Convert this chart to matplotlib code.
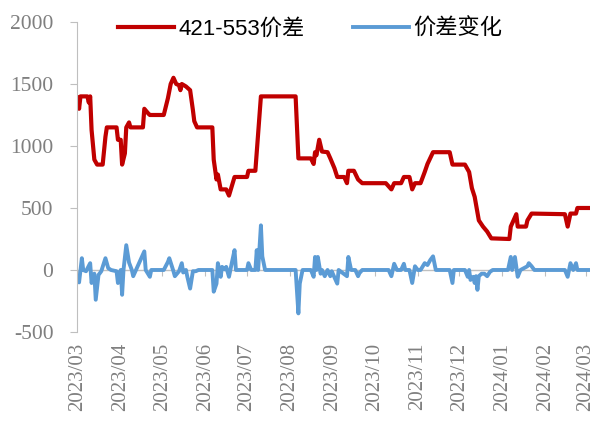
import matplotlib
matplotlib.use("Agg")
import matplotlib.pyplot as plt
import matplotlib.dates as mdates
import pandas as pd

plt.rcParams["axes.unicode_minus"] = False

# 421-553 spread (at its turning points)
spread_dates = [
    "2023-03-01", "2023-03-02", "2023-03-03", "2023-03-08", "2023-03-09", "2023-03-10",
    "2023-03-11", "2023-03-13", "2023-03-15", "2023-03-19", "2023-03-21", "2023-03-22",
    "2023-03-29", "2023-03-30", "2023-04-01", "2023-04-02", "2023-04-04", "2023-04-05",
    "2023-04-07", "2023-04-08", "2023-04-17", "2023-04-18", "2023-04-21", "2023-04-22",
    "2023-05-02", "2023-05-05", "2023-05-07", "2023-05-09", "2023-05-11", "2023-05-13",
    "2023-05-14", "2023-05-15", "2023-05-18", "2023-05-21", "2023-05-23", "2023-05-24",
    "2023-05-26", "2023-06-06", "2023-06-07", "2023-06-09", "2023-06-10", "2023-06-12",
    "2023-06-16", "2023-06-18", "2023-06-22", "2023-07-01", "2023-07-02", "2023-07-07",
    "2023-07-08", "2023-07-11", "2023-08-05", "2023-08-07", "2023-08-16", "2023-08-18",
    "2023-08-19", "2023-08-20", "2023-08-22", "2023-08-24", "2023-08-28", "2023-08-30",
    "2023-09-02", "2023-09-04", "2023-09-09", "2023-09-11", "2023-09-12", "2023-09-16",
    "2023-09-19", "2023-09-22", "2023-10-09", "2023-10-13", "2023-10-15", "2023-10-20",
    "2023-10-22", "2023-10-26", "2023-10-28", "2023-10-30", "2023-11-03", "2023-11-06",
    "2023-11-08", "2023-11-12", "2023-11-24", "2023-11-26", "2023-12-05", "2023-12-08",
    "2023-12-10", "2023-12-12", "2023-12-15", "2023-12-18", "2023-12-21", "2023-12-24",
    "2024-01-06", "2024-01-07", "2024-01-11", "2024-01-12", "2024-01-18", "2024-01-19",
    "2024-01-22", "2024-02-15", "2024-02-17", "2024-02-19", "2024-02-23", "2024-02-24",
    "2024-03-04",
]
spread_values = [
    1390, 1300, 1400, 1400, 1350, 1400,
    1130, 890, 850, 850, 1075, 1150,
    1150, 1050, 1050, 850, 940, 1150,
    1190, 1150, 1150, 1300, 1260, 1250,
    1250, 1385, 1500, 1550, 1500, 1490,
    1450, 1500, 1480, 1450, 1290, 1200,
    1150, 1150, 890, 730, 770, 650,
    650, 600, 750, 750, 800, 800,
    950, 1400, 1400, 900, 900, 855,
    950, 925, 1050, 955, 950, 900,
    820, 750, 750, 700, 800, 800,
    730, 700, 700, 650, 700, 700,
    750, 750, 650, 700, 700, 790,
    855, 950, 950, 850, 850, 790,
    660, 590, 400, 350, 310, 255,
    250, 350, 450, 350, 350, 400,
    455, 450, 350, 455, 455, 500,
    500,
]

# day-to-day change of the spread
change_dates = [
    "2023-03-01", "2023-03-02", "2023-03-04", "2023-03-05", "2023-03-07", "2023-03-10",
    "2023-03-11", "2023-03-13", "2023-03-14", "2023-03-16", "2023-03-18", "2023-03-21",
    "2023-03-23", "2023-03-25", "2023-03-29", "2023-03-30", "2023-04-01", "2023-04-02",
    "2023-04-03", "2023-04-05", "2023-04-07", "2023-04-09", "2023-04-10", "2023-04-12",
    "2023-04-18", "2023-04-19", "2023-04-22", "2023-04-23", "2023-05-02", "2023-05-05",
    "2023-05-06", "2023-05-09", "2023-05-10", "2023-05-13", "2023-05-15", "2023-05-16",
    "2023-05-18", "2023-05-19", "2023-05-21", "2023-05-23", "2023-05-25", "2023-05-27",
    "2023-06-06", "2023-06-07", "2023-06-09", "2023-06-10", "2023-06-12", "2023-06-13",
    "2023-06-15", "2023-06-16", "2023-06-18", "2023-06-20", "2023-06-22", "2023-06-23",
    "2023-07-01", "2023-07-02", "2023-07-04", "2023-07-07", "2023-07-08", "2023-07-09",
    "2023-07-11", "2023-07-12", "2023-07-14", "2023-08-05", "2023-08-07", "2023-08-08",
    "2023-08-10", "2023-08-16", "2023-08-18", "2023-08-19", "2023-08-20", "2023-08-21",
    "2023-08-23", "2023-08-24", "2023-08-26", "2023-08-28", "2023-08-30", "2023-08-31",
    "2023-09-04", "2023-09-05", "2023-09-11", "2023-09-12", "2023-09-14", "2023-09-17",
    "2023-09-19", "2023-09-20", "2023-09-22", "2023-10-11", "2023-10-13", "2023-10-15",
    "2023-10-17", "2023-10-20", "2023-10-22", "2023-10-23", "2023-10-26", "2023-10-28",
    "2023-10-30", "2023-11-01", "2023-11-03", "2023-11-06", "2023-11-08", "2023-11-10",
    "2023-11-12", "2023-11-14", "2023-11-24", "2023-11-26", "2023-11-27", "2023-12-05",
    "2023-12-07", "2023-12-08", "2023-12-09", "2023-12-11", "2023-12-12", "2023-12-13",
    "2023-12-14", "2023-12-15", "2023-12-17", "2023-12-19", "2023-12-21", "2023-12-23",
    "2023-12-25", "2024-01-05", "2024-01-07", "2024-01-08", "2024-01-10", "2024-01-12",
    "2024-01-14", "2024-01-19", "2024-01-20", "2024-01-22", "2024-01-24", "2024-02-15",
    "2024-02-17", "2024-02-18", "2024-02-19", "2024-02-21", "2024-02-23", "2024-02-24",
    "2024-03-04",
]
change_values = [
    -50, -100, 95, 0, -10, 55,
    -105, -30, -240, -40, -10, 95,
    15, 0, -10, -105, 0, -200,
    0, 200, 60, 0, -50, 0,
    150, 0, -55, 0, 0, 65,
    95, -10, -50, -10, 55, -20,
    0, -55, -150, -10, -10, 0,
    0, -175, -110, 55, -55, 25,
    5, 25, -55, 55, 160, 0,
    0, 55, 0, 0, 160, 0,
    360, 110, 0, 0, -350, -110,
    0, 0, -55, 105, 0, 105,
    -30, 0, -50, 0, -50, -10,
    -110, 0, -50, 105, 0, 0,
    -50, -25, 0, 0, -50, 50,
    0, 0, 50, 0, 0, -105,
    30, 0, 0, 55, 40, 80,
    110, 0, 0, -105, 0, 0,
    -55, 0, -80, -55, -105, -50,
    -160, -50, -30, -30, -50, -15,
    0, 0, 105, 0, 105, -55,
    0, 30, 55, 30, 0, 0,
    -55, 0, 55, 0, 55, 0,
    0,
]

month_ticks = pd.date_range("2023-03-01", "2024-03-01", freq="MS")

red = "#C00000"
blue = "#5B9BD5"
gray_text = "#7F7F7F"
axis_gray = "#BFBFBF"

fig = plt.figure(figsize=(5.95, 4.22), dpi=100)
ax = fig.add_axes([0.1294, 0.2133, 0.862, 0.7346])

ax.plot(pd.to_datetime(spread_dates), spread_values, color=red, lw=3.0,
        label="421-553价差", solid_joinstyle="round")
ax.plot(pd.to_datetime(change_dates), change_values, color=blue, lw=2.8,
        label="价差变化", solid_joinstyle="round")

ax.set_ylim(-500, 2000)
ax.set_yticks(range(-500, 2001, 500))
ax.set_xlim(pd.Timestamp("2023-02-28 12:00"), pd.Timestamp("2024-03-04"))

# x axis line sits at zero, labels stay at the bottom
ax.axhline(0, color=axis_gray, lw=1.0, zorder=0)
zero_axis = ax.secondary_xaxis(0.2)
zero_axis.set_xticks(month_ticks)
zero_axis.tick_params(axis="x", direction="out", length=4, color=axis_gray,
                      labelbottom=False)
zero_axis.spines["bottom"].set_visible(False)

ax.set_xticks(month_ticks)
ax.xaxis.set_major_formatter(mdates.DateFormatter("%Y/%m"))
ax.tick_params(axis="x", length=0, pad=8, labelrotation=90,
               labelsize=15, labelcolor=gray_text)
for lbl in ax.get_xticklabels():
    lbl.set_fontfamily("Liberation Serif")
    lbl.set_va("top")

ax.tick_params(axis="y", direction="out", length=5, color=axis_gray,
               labelsize=15.5, labelcolor=gray_text, pad=12)
for lbl in ax.get_yticklabels():
    lbl.set_fontfamily("Liberation Serif")

for side in ["top", "right", "bottom"]:
    ax.spines[side].set_visible(False)
ax.spines["left"].set_color(axis_gray)

leg = ax.legend(loc="upper center", bbox_to_anchor=(0.455, 1.075), ncol=2,
                frameon=False, handlelength=2.5, columnspacing=2.2,
                handletextpad=0.2,
                prop={"family": ["Liberation Sans", "Noto Sans CJK SC"], "size": 16})

fig.savefig("out.png", dpi=100)
